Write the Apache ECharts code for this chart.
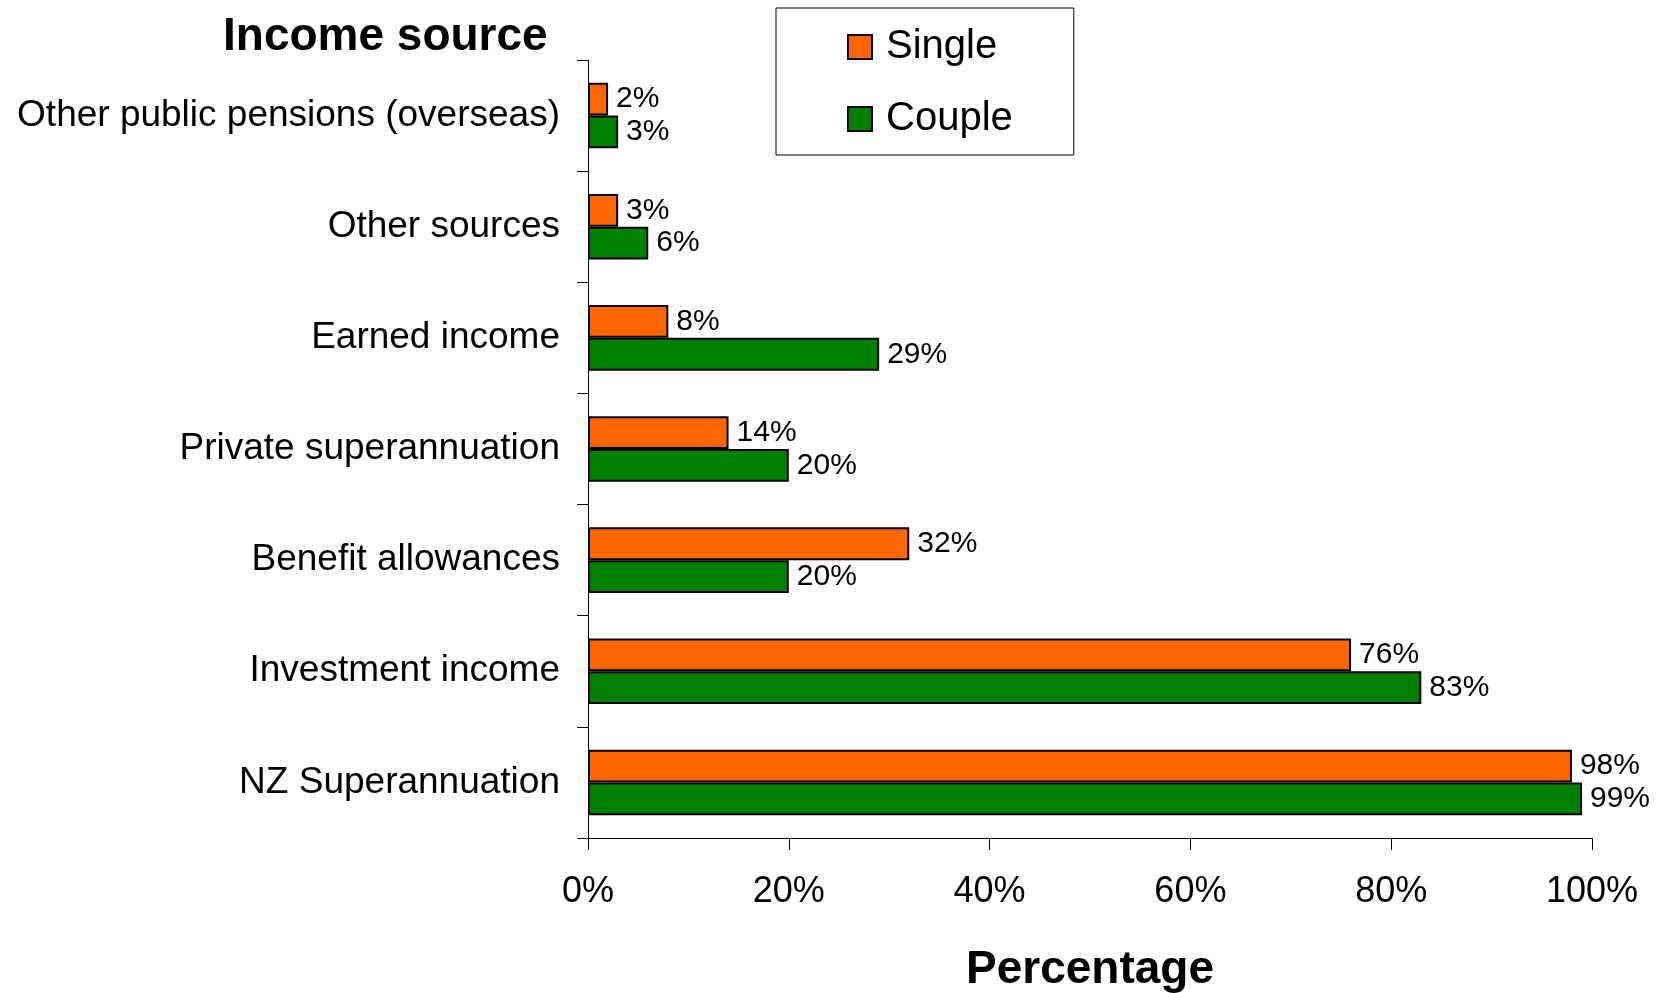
<!DOCTYPE html>
<html>
<head>
<meta charset="utf-8">
<title>Income source</title>
<script src="https://cdn.jsdelivr.net/npm/echarts@6/dist/echarts.min.js"></script>
<style>
  html, body { margin: 0; padding: 0; background: #fff; }
  #chart { width: 1667px; height: 993px; }
</style>
</head>
<body>
<div id="chart"></div>
<script>
// Income sources, listed top to bottom
const categories = [
  'Other public pensions (overseas)',
  'Other sources',
  'Earned income',
  'Private superannuation',
  'Benefit allowances',
  'Investment income',
  'NZ Superannuation'
];
// Share of people receiving each source (%)
const singleValues = [2, 3, 8, 14, 32, 76, 98];
const coupleValues = [3, 6, 29, 20, 20, 83, 99];
const xTicks = [0, 20, 40, 60, 80, 100];

const FONT = '"Liberation Sans", Arial, sans-serif';

const chart = echarts.init(document.getElementById('chart'), null, { renderer: 'canvas' });

function barSeries(name, values, color) {
  return {
    name: name,
    type: 'bar',
    data: values,
    barGap: '0%',
    barCategoryGap: '41%',
    itemStyle: { color: color, borderColor: '#000', borderWidth: 2 },
    label: {
      show: true,
      position: 'right',
      distance: 8,
      formatter: '{c}%',
      fontFamily: FONT,
      fontSize: 30,
      color: '#000'
    },
    emphasis: { disabled: true }
  };
}

chart.setOption({
  animation: false,
  backgroundColor: '#fff',
  textStyle: { fontFamily: FONT, color: '#000' },
  title: {
    text: 'Income source',
    left: 223,
    top: 14,
    padding: 0,
    textStyle: { fontFamily: FONT, fontSize: 46, fontWeight: 'bold', color: '#000' }
  },
  legend: {
    data: ['Single', 'Couple'],
    orient: 'vertical',
    icon: 'rect',
    left: 776,
    top: 8,
    padding: [19, 61, 16, 71],
    itemGap: 32,
    itemWidth: 24,
    itemHeight: 24,
    backgroundColor: '#fff',
    borderColor: '#000',
    borderWidth: 1,
    textStyle: { fontFamily: FONT, fontSize: 40, color: '#000', padding: [0, 0, 0, 9] }
  },
  grid: { left: 588, right: 75, top: 60, bottom: 155, containLabel: false, outerBoundsMode: 'none' },
  xAxis: {
    type: 'value',
    min: xTicks[0],
    max: xTicks[xTicks.length - 1],
    interval: xTicks[1] - xTicks[0],
    name: 'Percentage',
    nameLocation: 'middle',
    nameGap: 109,
    nameTextStyle: { fontFamily: FONT, fontSize: 46, fontWeight: 'bold', color: '#000' },
    axisLine: { show: true, lineStyle: { color: '#000', width: 1 } },
    axisTick: { show: true, length: 12, lineStyle: { color: '#000', width: 1 } },
    axisLabel: { formatter: '{value}%', fontFamily: FONT, fontSize: 36, color: '#000', margin: 36 },
    splitLine: { show: false }
  },
  yAxis: {
    type: 'category',
    data: categories,
    inverse: true,
    axisLine: { show: true, lineStyle: { color: '#000', width: 1 } },
    axisTick: { show: true, length: 11, lineStyle: { color: '#000', width: 1 } },
    axisLabel: { fontFamily: FONT, fontSize: 37, color: '#000', margin: 28 },
    splitLine: { show: false }
  },
  series: [
    barSeries('Single', singleValues, '#FF6600'),
    barSeries('Couple', coupleValues, '#008000')
  ]
});
</script>
</body>
</html>
